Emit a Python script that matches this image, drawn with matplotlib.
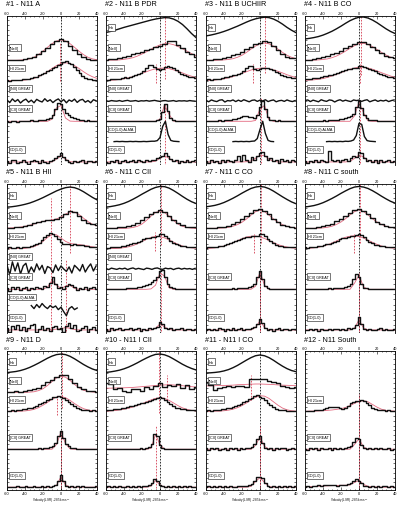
import matplotlib

matplotlib.use("Agg")
import matplotlib.pyplot as plt  # noqa: E402
import numpy as np  # noqa: E402
from matplotlib.ticker import MultipleLocator  # noqa: E402

plt.rcParams["font.family"] = ["Liberation Sans", "DejaVu Sans"]
plt.rcParams["axes.unicode_minus"] = False

BLACK = "#111111"
FIT = "#e46a80"
MARK = "#d43a50"

# channel grids (km/s): coarse for Halpha/[NeII] and all fits, finer for the rest
V5 = [-60, -55, -50, -45, -40, -35, -30, -25, -20, -15, -10, -5, 0, 5, 10, 15, 20, 25, 30, 35, 40]
V3 = [-60, -57, -54, -51, -48, -45, -42, -39, -36, -33, -30, -27, -24, -21, -18, -15, -12,
      -9, -6, -3, 0, 3, 6, 9, 12, 15, 18, 21, 24, 27, 30, 33, 36, 39]

TITLES = ["#1 - N11 A", "#2 - N11 B PDR", "#3 - N11 B UCHIIR", "#4 - N11 B CO",
          "#5 - N11 B HII", "#6 - N11 C CII", "#7 - N11 C CO", "#8 - N11 C south",
          "#9 - N11 D", "#10 - N11 I CII", "#11 - N11 I CO", "#12 - N11 South"]
LINE_NAMES = ["H\u03b1", "[NeII]", "HI 21cm", "[NII] GREAT", "[CII] GREAT", "CO(1-0) ALMA", "CO(1-0)"]

# ---- #1 N11 A
P1_NEII = [0.02, 0.0, 0.03, 0.02, 0.05, 0.1, 0.18, 0.3, 0.45, 0.62, 0.8, 0.95, 1.05, 0.93, 0.72, 0.5, 0.3, 0.15, 0.07, 0.03, 0.02]
P1_NEII_FIT = [0.0, 0.0, 0.0, 0.01, 0.03, 0.07, 0.15, 0.28, 0.45, 0.64, 0.82, 0.95, 1.0, 0.95, 0.82, 0.64, 0.45, 0.28, 0.15, 0.07, 0.03]
P1_HI = [0.02, 0.0, 0.03, 0.01, 0.04, 0.03, 0.06, 0.1, 0.08, 0.14, 0.2, 0.18, 0.27, 0.33, 0.36, 0.45, 0.52,
         0.6, 0.68, 0.75, 0.8, 0.92, 0.95, 0.88, 0.8, 0.65, 0.5, 0.38, 0.25, 0.15, 0.1, 0.06, 0.04, 0.05]
P1_HI_FIT = [0.0, 0.0, 0.0, 0.01, 0.03, 0.06, 0.11, 0.19, 0.3, 0.44, 0.6, 0.74, 0.84, 0.88, 0.84, 0.74, 0.6, 0.44, 0.3, 0.19, 0.11]
P1_NII = [0.05, -0.08, 0.1, -0.03, 0.07, -0.1, 0.02, 0.09, -0.06, 0.04, -0.09, 0.08, 0.0, -0.05, 0.11, -0.02, 0.06,
          -0.08, 0.03, 0.1, -0.04, 0.07, -0.09, 0.05, -0.02, 0.09, -0.07, 0.04, 0.08, -0.06, 0.02, -0.09, 0.06, 0.01]
P1_CII = [0.02, -0.03, 0.01, 0.03, -0.02, 0.0, 0.03, -0.01, 0.02, 0.04, 0.01, 0.03, 0.05, 0.04, 0.06, 0.1, 0.16,
          0.3, 0.62, 0.92, 0.85, 0.6, 0.42, 0.3, 0.2, 0.14, 0.1, 0.06, 0.05, 0.02, 0.04, 0.0, 0.02, -0.01]
P1_CII_FIT = [0.0, 0.0, 0.0, 0.0, 0.0, 0.0, 0.0, 0.0, 0.0, 0.0, 0.1, 0.66, 0.78, 0.16, 0.01, 0.0, 0.0, 0.0, 0.0, 0.0, 0.0]
P1_CO = [0.05, -0.06, 0.08, 0.1, -0.04, 0.02, 0.12, 0.0, -0.08, 0.06, 0.1, 0.03, -0.05, 0.08, 0.02, -0.03, 0.07,
         0.1, 0.2, 0.3, 0.45, 0.25, 0.1, 0.02, -0.04, 0.06, -0.02, 0.05, 0.09, -0.05, 0.03, 0.07, -0.02, 0.04]
P1_CO_FIT = [0.0, 0.0, 0.0, 0.0, 0.0, 0.0, 0.0, 0.0, 0.0, 0.0, 0.0, 0.14, 0.3, 0.14, 0.01, 0.0, 0.0, 0.0, 0.0, 0.0, 0.0]
P1_MARKS = [(-1, 4.0, 5.9)]

# ---- #2 N11 B PDR
P2_HA = [0.37, 0.42, 0.48, 0.55, 0.62, 0.68, 0.74, 0.8, 0.86, 0.92, 0.98, 1.03, 1.07, 1.1, 1.09, 1.03, 0.92, 0.76, 0.55, 0.32, 0.12]
P2_NEII = [0.02, 0.05, 0.08, 0.1, 0.16, 0.22, 0.3, 0.36, 0.42, 0.5, 0.58, 0.66, 0.72, 0.8, 0.95, 0.93, 0.76, 0.6, 0.42, 0.3, 0.18]
P2_NEII_FIT = [0.0, 0.01, 0.01, 0.02, 0.05, 0.08, 0.13, 0.21, 0.31, 0.42, 0.55, 0.66, 0.76, 0.81, 0.82, 0.77, 0.68, 0.57, 0.45, 0.33, 0.23]
P2_HI = [0.05, 0.03, 0.06, 0.08, 0.06, 0.1, 0.13, 0.16, 0.15, 0.2, 0.24, 0.28, 0.32, 0.38, 0.45, 0.62, 0.75,
         0.78, 0.65, 0.55, 0.5, 0.58, 0.68, 0.72, 0.66, 0.6, 0.5, 0.42, 0.35, 0.3, 0.25, 0.2, 0.16, 0.13]
P2_HI_FIT = [0.01, 0.02, 0.03, 0.06, 0.09, 0.14, 0.2, 0.28, 0.36, 0.44, 0.52, 0.58, 0.61, 0.62, 0.59, 0.53, 0.46, 0.38, 0.29, 0.22, 0.15]
P2_NII = [0.01, -0.02, 0.02, 0.0, -0.01, 0.02, -0.02, 0.01, 0.03, -0.01, 0.0, 0.02, -0.02, 0.01, 0.0, 0.02, -0.01,
          0.01, 0.03, 0.0, -0.02, 0.01, 0.02, -0.01, 0.0, 0.02, -0.02, 0.01, 0.0, 0.01, -0.01, 0.02, 0.0, -0.01]
P2_CII = [0.01, 0.0, 0.01, -0.01, 0.0, 0.01, 0.0, 0.02, 0.0, 0.01, -0.01, 0.01, 0.0, 0.02, 0.01, 0.0, 0.02,
          0.01, 0.03, 0.04, 0.1, 0.45, 0.85, 0.5, 0.15, 0.05, 0.02, 0.01, 0.0, 0.01, 0.0, 0.01, 0.0, 0.01]
P2_CII_FIT = [0.0, 0.0, 0.0, 0.0, 0.0, 0.0, 0.0, 0.0, 0.0, 0.0, 0.0, 0.0, 0.11, 0.8, 0.35, 0.01, 0.0, 0.0, 0.0, 0.0, 0.0]
P2_ALMA = [None, None, None, 0.0, 0.01, 0.0, 0.01, 0.0, 0.0, 0.01, 0.0, 0.01, 0.0, 0.0, 0.01, 0.0, 0.01,
           0.02, 0.02, 0.05, 0.2, 0.75, 1.0, 0.35, 0.06, 0.02, 0.01, 0.0, None, None, None, None, None, None]
P2_CO = [0.02, -0.05, 0.06, 0.0, 0.09, -0.03, 0.04, 0.1, -0.02, 0.05, 0.08, 0.02, 0.12, 0.06, 0.0, 0.1, 0.04,
         0.08, 0.12, 0.18, 0.22, 0.3, 0.42, 0.3, 0.15, 0.05, 0.1, -0.03, 0.06, 0.02, 0.1, 0.0, 0.05, 0.08]
P2_CO_FIT = [0.0, 0.0, 0.0, 0.0, 0.0, 0.0, 0.0, 0.0, 0.0, 0.0, 0.0, 0.04, 0.18, 0.3, 0.18, 0.04, 0.0, 0.0, 0.0, 0.0, 0.0]
P2_MARKS = [(6, 4.1, 7.2), (-5, 3.9, 4.8), (5, -0.2, 2.9)]

# ---- #3 N11 B UCHIIR
P3_HA = [0.2, 0.24, 0.29, 0.35, 0.42, 0.5, 0.59, 0.68, 0.78, 0.88, 0.97, 1.04, 1.09, 1.12, 1.1, 1.03, 0.92, 0.78, 0.62, 0.48, 0.36]
P3_NEII = [0.02, 0.03, 0.05, 0.08, 0.12, 0.18, 0.25, 0.32, 0.42, 0.55, 0.66, 0.78, 0.85, 0.95, 0.9, 0.72, 0.5, 0.3, 0.18, 0.12, 0.1]
P3_NEII_FIT = [0.0, 0.0, 0.0, 0.01, 0.02, 0.04, 0.08, 0.15, 0.25, 0.39, 0.55, 0.7, 0.81, 0.85, 0.81, 0.7, 0.55, 0.39, 0.25, 0.15, 0.08]
P3_HI = [0.04, 0.06, 0.03, 0.08, 0.1, 0.09, 0.14, 0.16, 0.2, 0.22, 0.26, 0.3, 0.35, 0.4, 0.48, 0.6, 0.74,
         0.7, 0.58, 0.52, 0.55, 0.6, 0.64, 0.62, 0.58, 0.5, 0.44, 0.36, 0.3, 0.24, 0.2, 0.16, 0.14, 0.12]
P3_HI_FIT = [0.01, 0.02, 0.03, 0.06, 0.09, 0.14, 0.2, 0.28, 0.36, 0.44, 0.52, 0.58, 0.61, 0.62, 0.59, 0.53, 0.46, 0.38, 0.29, 0.22, 0.15]
P3_NII = [0.03, -0.04, 0.05, 0.0, -0.03, 0.04, 0.06, -0.05, 0.02, 0.0, 0.05, -0.03, 0.04, -0.02, 0.06, 0.01, -0.04,
          0.03, 0.05, -0.02, 0.04, 0.0, 0.06, -0.03, 0.02, 0.05, -0.04, 0.01, 0.03, -0.02, 0.05, 0.0, -0.03, 0.02]
P3_CII = [0.02, 0.0, 0.03, 0.01, 0.02, 0.04, 0.03, 0.05, 0.06, 0.08, 0.1, 0.12, 0.16, 0.2, 0.24, 0.26, 0.22,
          0.2, 0.18, 0.3, 0.7, 0.98, 0.6, 0.2, 0.08, 0.05, 0.03, 0.04, 0.02, 0.03, 0.01, 0.02, 0.0, 0.01]
P3_CII_FIT = [0.0, 0.0, 0.0, 0.0, 0.0, 0.0, 0.0, 0.0, 0.0, 0.0, 0.0, 0.04, 0.61, 0.78, 0.08, 0.0, 0.0, 0.0, 0.0, 0.0, 0.0]
P3_ALMA = [None, None, None, None, None, None, None, None, None, None, 0.0, 0.01, 0.0, 0.01, 0.0, 0.01, 0.0,
           0.02, 0.03, 0.15, 0.6, 1.0, 0.4, 0.06, 0.01, 0.0, None, None, None, None, None, None, None, None]
P3_CO = [0.05, -0.04, 0.1, 0.02, 0.06, -0.05, 0.08, 0.0, 0.12, 0.05, -0.02, 0.1, 0.3, 0.05, 0.35, 0.1, 0.02,
         0.25, 0.12, 0.3, 0.45, 0.5, 0.3, 0.1, 0.2, 0.05, 0.12, -0.03, 0.15, 0.05, 0.08, 0.0, 0.1, 0.04]
P3_CO_FIT = [0.0, 0.0, 0.0, 0.0, 0.0, 0.0, 0.0, 0.0, 0.0, 0.01, 0.05, 0.18, 0.33, 0.31, 0.14, 0.03, 0.0, 0.0, 0.0, 0.0, 0.0]
P3_MARKS = [(5, 4.4, 7.2), (-8, 3.9, 4.8), (1.5, -0.2, 3.2)]

# ---- #4 N11 B CO
P4_HA = [0.05, 0.08, 0.12, 0.17, 0.24, 0.33, 0.43, 0.55, 0.68, 0.82, 0.95, 1.05, 1.12, 1.13, 1.08, 0.98, 0.85, 0.7, 0.55, 0.42, 0.32]
P4_NEII = [0.02, 0.04, 0.06, 0.1, 0.15, 0.22, 0.3, 0.38, 0.48, 0.6, 0.72, 0.82, 0.9, 0.88, 0.8, 0.65, 0.5, 0.35, 0.22, 0.14, 0.1]
P4_NEII_FIT = [0.0, 0.0, 0.01, 0.02, 0.04, 0.07, 0.13, 0.21, 0.32, 0.45, 0.59, 0.72, 0.82, 0.84, 0.78, 0.67, 0.53, 0.39, 0.26, 0.16, 0.09]
P4_HI = [0.08, 0.1, 0.07, 0.12, 0.15, 0.13, 0.18, 0.22, 0.25, 0.28, 0.3, 0.35, 0.38, 0.42, 0.46, 0.5, 0.55,
         0.58, 0.62, 0.64, 0.7, 0.72, 0.68, 0.62, 0.58, 0.52, 0.46, 0.4, 0.34, 0.28, 0.24, 0.2, 0.17, 0.15]
P4_HI_FIT = [0.01, 0.03, 0.04, 0.07, 0.1, 0.16, 0.23, 0.31, 0.39, 0.48, 0.56, 0.62, 0.66, 0.66, 0.62, 0.56, 0.48, 0.39, 0.31, 0.23, 0.16]
P4_NII = [0.02, 0.05, -0.03, 0.04, 0.0, -0.04, 0.06, 0.01, -0.02, 0.05, 0.03, -0.05, 0.02, 0.06, -0.01, 0.04, 0.0,
          -0.03, 0.05, 0.02, 0.04, -0.02, 0.03, 0.06, -0.04, 0.01, 0.05, -0.02, 0.03, 0.0, 0.04, -0.03, 0.02, 0.05]
P4_CII = [0.01, 0.02, 0.0, 0.02, 0.01, 0.03, 0.02, 0.04, 0.03, 0.05, 0.06, 0.05, 0.08, 0.1, 0.12, 0.15, 0.2,
          0.24, 0.35, 0.7, 1.0, 0.65, 0.3, 0.15, 0.08, 0.05, 0.04, 0.03, 0.02, 0.03, 0.01, 0.02, 0.01, 0.0]
P4_CII_FIT = [0.0, 0.0, 0.0, 0.0, 0.0, 0.0, 0.0, 0.0, 0.0, 0.0, 0.0, 0.27, 0.95, 0.42, 0.02, 0.0, 0.0, 0.0, 0.0, 0.0, 0.0]
P4_ALMA = [None, None, None, None, None, None, None, None, 0.0, 0.01, 0.0, 0.01, 0.0, 0.01, 0.0, 0.02, 0.01,
           0.03, 0.08, 0.3, 0.9, 0.85, 0.25, 0.05, 0.02, 0.01, 0.0, None, None, None, None, None, None, None]
P4_CO = [0.03, -0.05, 0.06, 0.02, 0.08, -0.02, 0.1, 0.05, 0.0, 0.55, 0.1, 0.04, 0.12, -0.02, 0.08, 0.15, 0.06,
         0.2, 0.3, 0.25, 0.5, 0.45, 0.2, 0.05, 0.12, 0.02, 0.08, -0.03, 0.1, 0.02, 0.06, 0.1, 0.0, 0.05]
P4_CO_FIT = [0.0, 0.0, 0.0, 0.0, 0.0, 0.0, 0.0, 0.0, 0.0, 0.0, 0.03, 0.17, 0.34, 0.25, 0.07, 0.01, 0.0, 0.0, 0.0, 0.0, 0.0]
P4_MARKS = [(2, 4.3, 7.2), (1, 3.9, 4.8), (0.7, -0.2, 3.0)]

# ---- #5 N11 B HII
P5_HA = [0.04, 0.06, 0.09, 0.13, 0.18, 0.24, 0.32, 0.41, 0.51, 0.62, 0.73, 0.84, 0.93, 1.0, 1.03, 1.0, 0.92, 0.8, 0.66, 0.52, 0.4]
P5_NEII = [0.03, 0.04, 0.06, 0.08, 0.12, 0.18, 0.25, 0.3, 0.36, 0.42, 0.4, 0.45, 0.55, 0.72, 0.85, 0.82, 0.62, 0.42, 0.28, 0.2, 0.15]
P5_NEII_FIT = [0.01, 0.02, 0.04, 0.06, 0.1, 0.15, 0.21, 0.28, 0.34, 0.38, 0.41, 0.46, 0.56, 0.7, 0.8, 0.8, 0.68, 0.5, 0.33, 0.2, 0.12]
P5_HI = [0.04, 0.06, 0.03, 0.05, 0.07, 0.05, 0.08, 0.1, 0.09, 0.13, 0.16, 0.22, 0.3, 0.42, 0.55, 0.68, 0.76,
         0.72, 0.6, 0.45, 0.32, 0.25, 0.22, 0.24, 0.2, 0.22, 0.18, 0.2, 0.16, 0.14, 0.12, 0.1, 0.08, 0.07]
P5_HI_FIT = [0.0, 0.0, 0.01, 0.01, 0.02, 0.05, 0.1, 0.2, 0.36, 0.55, 0.7, 0.68, 0.52, 0.36, 0.26, 0.22, 0.2, 0.17, 0.13, 0.09, 0.06]
P5_NII = [0.2, -0.3, 0.35, -0.1, 0.3, -0.25, 0.15, 0.28, -0.2, 0.1, -0.15, 0.25, -0.05, 0.18, -0.22, 0.12, 0.05,
          -0.18, 0.2, -0.08, 0.15, 0.0, -0.12, 0.1, -0.2, 0.18, 0.05, -0.1, 0.22, -0.15, 0.08, 0.25, -0.1, 0.15]
P5_CII = [0.05, -0.08, 0.1, 0.0, 0.12, -0.05, 0.06, 0.1, -0.04, 0.08, 0.02, 0.12, 0.05, 0.0, 0.15, 0.1, 0.3,
          0.6, 0.25, 0.05, 0.1, 0.0, 0.15, 0.28, 0.2, 0.1, -0.05, 0.08, 0.02, 0.12, -0.03, 0.07, 0.1, 0.0]
P5_CII_FIT = [0.0, 0.0, 0.0, 0.0, 0.0, 0.0, 0.0, 0.0, 0.01, 0.1, 0.45, 0.2, 0.05, 0.15, 0.2, 0.05, 0.0, 0.0, 0.0, 0.0, 0.0]
P5_ALMA = [None, None, None, None, None, None, None, None, None, 0.2, 0.05, 0.25, 0.1, 0.3, 0.15, 0.05, 0.2,
           0.1, 0.18, 0.0, 0.12, -0.1, -0.3, 0.05, 0.15, 0.0, 0.08, None, None, None, None, None, None, None]
P5_CO = [0.1, -0.1, 0.2, 0.05, 0.25, 0.0, 0.15, -0.05, 0.1, 0.22, 0.3, -0.1, 0.05, 0.2, 0.0, 0.1, -0.05,
         0.15, 0.2, 0.05, 0.1, -0.08, 0.2, 0.35, 0.1, 0.25, -0.05, 0.0, 0.1, 0.2, -0.1, 0.05, 0.15, 0.0]
P5_CO_FIT = [0.0, 0.0, 0.0, 0.0, 0.0, 0.0, 0.0, 0.0, 0.0, 0.0, 0.02, 0.04, 0.06, 0.12, 0.08, 0.02, 0.0, 0.0, 0.0, 0.0, 0.0]
P5_MARKS = [(-11, -0.2, 6.5), (10, 3.8, 7.2), (6, -0.2, 3.5)]

# ---- #6 N11 C CII
P6_HA = [0.04, 0.07, 0.11, 0.16, 0.23, 0.32, 0.43, 0.55, 0.68, 0.8, 0.92, 1.01, 1.06, 1.05, 0.98, 0.86, 0.72, 0.57, 0.43, 0.31, 0.22]
P6_NEII = [0.03, 0.04, 0.03, 0.05, 0.06, 0.1, 0.16, 0.28, 0.4, 0.55, 0.7, 0.8, 0.88, 0.78, 0.6, 0.4, 0.25, 0.15, 0.08, 0.06, 0.05]
P6_NEII_FIT = [0.0, 0.0, 0.0, 0.0, 0.0, 0.01, 0.04, 0.1, 0.21, 0.39, 0.6, 0.78, 0.85, 0.78, 0.6, 0.39, 0.21, 0.1, 0.04, 0.01, 0.0]
P6_HI = [0.05, 0.04, 0.07, 0.06, 0.08, 0.1, 0.12, 0.15, 0.18, 0.22, 0.26, 0.3, 0.34, 0.4, 0.45, 0.5, 0.52,
         0.55, 0.58, 0.62, 0.7, 0.72, 0.62, 0.5, 0.4, 0.3, 0.24, 0.18, 0.14, 0.12, 0.1, 0.09, 0.1, 0.08]
P6_HI_FIT = [0.0, 0.01, 0.01, 0.02, 0.05, 0.09, 0.15, 0.24, 0.35, 0.46, 0.55, 0.6, 0.59, 0.53, 0.43, 0.32, 0.21, 0.13, 0.07, 0.04, 0.02]
P6_NII = [0.02, -0.03, 0.04, 0.01, -0.02, 0.03, 0.0, 0.04, -0.03, 0.02, 0.05, -0.01, 0.03, 0.0, -0.03, 0.04, 0.02,
          -0.02, 0.03, 0.05, 0.0, -0.02, 0.04, 0.01, 0.03, -0.03, 0.02, 0.04, -0.01, 0.03, 0.0, 0.02, -0.02, 0.03]
P6_CII = [0.01, 0.0, 0.02, 0.01, 0.02, 0.03, 0.02, 0.03, 0.04, 0.05, 0.06, 0.08, 0.1, 0.12, 0.15, 0.2, 0.26,
          0.34, 0.45, 0.62, 0.88, 0.95, 0.6, 0.25, 0.1, 0.05, 0.03, 0.02, 0.02, 0.01, 0.02, 0.01, 0.0, 0.01]
P6_CII_FIT = [0.0, 0.0, 0.0, 0.0, 0.0, 0.0, 0.0, 0.0, 0.0, 0.0, 0.02, 0.2, 0.8, 0.65, 0.08, 0.0, 0.0, 0.0, 0.0, 0.0, 0.0]
P6_CO = [0.05, -0.03, 0.08, 0.0, 0.06, 0.1, -0.02, 0.07, 0.03, 0.09, 0.0, 0.05, 0.08, -0.03, 0.06, 0.02, 0.1,
         0.04, 0.08, 0.15, 0.4, 0.3, 0.12, 0.05, 0.1, -0.02, 0.06, 0.03, 0.09, 0.0, 0.05, 0.07, 0.02, 0.04]
P6_CO_FIT = [0.0, 0.0, 0.0, 0.0, 0.0, 0.0, 0.0, 0.0, 0.0, 0.0, 0.0, 0.08, 0.3, 0.15, 0.02, 0.0, 0.0, 0.0, 0.0, 0.0, 0.0]
P6_MARKS = [(1, 4.2, 7.2), (-6, 3.9, 4.8), (1.5, -0.2, 2.8)]

# ---- #7 N11 C CO
P7_HA = [0.06, 0.09, 0.13, 0.19, 0.27, 0.37, 0.48, 0.6, 0.73, 0.85, 0.96, 1.03, 1.06, 1.03, 0.95, 0.83, 0.69, 0.55, 0.42, 0.3, 0.21]
P7_NEII = [0.02, 0.03, 0.04, 0.05, 0.08, 0.12, 0.2, 0.32, 0.45, 0.6, 0.75, 0.88, 0.95, 0.85, 0.68, 0.48, 0.3, 0.18, 0.1, 0.06, 0.04]
P7_NEII_FIT = [0.0, 0.0, 0.0, 0.01, 0.02, 0.05, 0.1, 0.18, 0.3, 0.46, 0.65, 0.82, 0.9, 0.82, 0.65, 0.46, 0.3, 0.18, 0.1, 0.05, 0.02]
P7_HI = [0.05, 0.07, 0.06, 0.09, 0.1, 0.13, 0.15, 0.18, 0.22, 0.27, 0.32, 0.36, 0.42, 0.46, 0.5, 0.55, 0.58,
         0.6, 0.62, 0.64, 0.7, 0.72, 0.62, 0.48, 0.36, 0.26, 0.2, 0.15, 0.12, 0.1, 0.09, 0.08, 0.07, 0.08]
P7_HI_FIT = [0.01, 0.02, 0.04, 0.08, 0.13, 0.2, 0.29, 0.39, 0.49, 0.57, 0.61, 0.62, 0.58, 0.5, 0.4, 0.3, 0.2, 0.13, 0.08, 0.04, 0.02]
P7_CII = [0.01, 0.02, 0.0, 0.02, 0.01, 0.03, 0.02, 0.01, 0.03, 0.02, 0.04, 0.03, 0.05, 0.04, 0.06, 0.08, 0.1,
          0.15, 0.28, 0.6, 0.88, 0.5, 0.15, 0.05, 0.03, 0.02, 0.01, 0.03, 0.0, 0.02, 0.01, 0.0, 0.02, 0.01]
P7_CII_FIT = [0.0, 0.0, 0.0, 0.0, 0.0, 0.0, 0.0, 0.0, 0.0, 0.0, 0.0, 0.15, 0.85, 0.2, 0.0, 0.0, 0.0, 0.0, 0.0, 0.0, 0.0]
P7_CO = [0.02, 0.06, -0.02, 0.05, 0.0, 0.08, 0.03, -0.03, 0.06, 0.02, 0.1, 0.0, 0.05, 0.08, -0.02, 0.06, 0.04,
         0.1, 0.15, 0.3, 0.55, 0.35, 0.08, 0.02, 0.06, -0.03, 0.05, 0.08, 0.0, 0.04, 0.07, -0.02, 0.05, 0.03]
P7_CO_FIT = [0.0, 0.0, 0.0, 0.0, 0.0, 0.0, 0.0, 0.0, 0.0, 0.0, 0.0, 0.12, 0.45, 0.12, 0.0, 0.0, 0.0, 0.0, 0.0, 0.0, 0.0]
P7_MARKS = [(1, 4.3, 7.2), (-7, 3.8, 4.7), (0.5, -0.2, 2.8)]

# ---- #8 N11 C south
P8_HA = [0.05, 0.08, 0.12, 0.18, 0.26, 0.36, 0.47, 0.59, 0.72, 0.84, 0.95, 1.03, 1.06, 1.03, 0.96, 0.85, 0.72, 0.58, 0.45, 0.33, 0.24]
P8_NEII = [0.03, 0.02, 0.04, 0.06, 0.09, 0.14, 0.22, 0.34, 0.48, 0.62, 0.76, 0.88, 0.96, 0.86, 0.7, 0.5, 0.32, 0.2, 0.12, 0.07, 0.05]
P8_NEII_FIT = [0.0, 0.0, 0.0, 0.01, 0.02, 0.05, 0.1, 0.19, 0.31, 0.47, 0.66, 0.82, 0.91, 0.83, 0.66, 0.47, 0.31, 0.19, 0.1, 0.05, 0.02]
P8_HI = [0.06, 0.05, 0.08, 0.07, 0.1, 0.12, 0.14, 0.17, 0.21, 0.25, 0.3, 0.35, 0.4, 0.45, 0.5, 0.54, 0.58,
         0.6, 0.62, 0.68, 0.72, 0.66, 0.55, 0.44, 0.34, 0.26, 0.2, 0.16, 0.13, 0.11, 0.1, 0.09, 0.08, 0.07]
P8_HI_FIT = [0.01, 0.02, 0.04, 0.07, 0.12, 0.19, 0.28, 0.38, 0.48, 0.56, 0.61, 0.63, 0.6, 0.52, 0.42, 0.31, 0.21, 0.13, 0.08, 0.04, 0.02]
P8_CII = [0.02, 0.0, 0.01, 0.03, 0.01, 0.02, 0.0, 0.03, 0.02, 0.04, 0.03, 0.05, 0.04, 0.06, 0.07, 0.1, 0.14,
          0.25, 0.5, 0.75, 0.6, 0.25, 0.08, 0.04, 0.02, 0.03, 0.01, 0.02, 0.0, 0.02, 0.01, 0.03, 0.0, 0.01]
P8_CII_FIT = [0.0, 0.0, 0.0, 0.0, 0.0, 0.0, 0.0, 0.0, 0.0, 0.0, 0.0, 0.3, 0.7, 0.12, 0.0, 0.0, 0.0, 0.0, 0.0, 0.0, 0.0]
P8_CO = [0.02, -0.02, 0.04, 0.0, 0.03, -0.03, 0.05, 0.01, 0.0, 0.04, -0.02, 0.03, 0.06, 0.0, 0.05, 0.02, 0.08,
         0.05, 0.12, 0.25, 0.62, 0.3, 0.06, 0.0, 0.04, 0.02, -0.02, 0.05, 0.1, 0.0, 0.03, 0.02, -0.01, 0.03]
P8_CO_FIT = [0.0, 0.0, 0.0, 0.0, 0.0, 0.0, 0.0, 0.0, 0.0, 0.0, 0.0, 0.1, 0.5, 0.1, 0.0, 0.0, 0.0, 0.0, 0.0, 0.0, 0.0]
P8_MARKS = [(1, 4.3, 7.2), (-6, 3.8, 4.7), (0.5, -0.2, 2.8)]

# ---- #9 N11 D
P9_HA = [0.04, 0.07, 0.1, 0.15, 0.22, 0.31, 0.42, 0.54, 0.67, 0.8, 0.91, 0.99, 1.02, 0.99, 0.9, 0.77, 0.62, 0.47, 0.34, 0.23, 0.15]
P9_NEII = [0.04, 0.03, 0.05, 0.04, 0.06, 0.1, 0.15, 0.25, 0.38, 0.52, 0.66, 0.8, 0.9, 0.92, 0.72, 0.5, 0.3, 0.15, 0.08, 0.05, 0.04]
P9_NEII_FIT = [0.0, 0.0, 0.0, 0.0, 0.0, 0.01, 0.03, 0.09, 0.19, 0.36, 0.57, 0.76, 0.85, 0.8, 0.63, 0.42, 0.24, 0.11, 0.05, 0.02, 0.0]
P9_HI = [0.03, 0.04, 0.05, 0.04, 0.07, 0.08, 0.1, 0.12, 0.16, 0.2, 0.25, 0.3, 0.36, 0.43, 0.5, 0.58, 0.66,
         0.74, 0.78, 0.8, 0.76, 0.7, 0.6, 0.48, 0.36, 0.26, 0.18, 0.12, 0.08, 0.06, 0.05, 0.04, 0.05, 0.03]
P9_HI_FIT = [0.0, 0.0, 0.0, 0.01, 0.02, 0.05, 0.1, 0.19, 0.32, 0.47, 0.63, 0.75, 0.78, 0.72, 0.58, 0.41, 0.26, 0.14, 0.07, 0.03, 0.01]
P9_CII = [0.0, 0.02, 0.01, -0.01, 0.02, 0.0, 0.03, 0.01, 0.02, 0.0, 0.03, 0.02, 0.04, 0.03, 0.05, 0.06, 0.1,
          0.18, 0.35, 0.7, 0.95, 0.6, 0.3, 0.15, 0.08, 0.05, 0.03, 0.02, 0.03, 0.01, 0.02, 0.0, 0.01, 0.02]
P9_CII_FIT = [0.0, 0.0, 0.0, 0.0, 0.0, 0.0, 0.0, 0.0, 0.0, 0.0, 0.0, 0.25, 0.9, 0.3, 0.02, 0.0, 0.0, 0.0, 0.0, 0.0, 0.0]
P9_CO = [0.01, 0.03, -0.01, 0.02, 0.04, 0.0, 0.03, 0.05, 0.01, 0.02, 0.05, 0.0, 0.03, 0.06, 0.02, 0.04, 0.03,
         0.06, 0.1, 0.3, 0.65, 0.35, 0.08, 0.03, 0.05, 0.0, 0.04, 0.02, 0.05, 0.01, 0.03, 0.0, 0.02, 0.04]
P9_CO_FIT = [0.0, 0.0, 0.0, 0.0, 0.0, 0.0, 0.0, 0.0, 0.0, 0.0, 0.0, 0.1, 0.55, 0.12, 0.0, 0.0, 0.0, 0.0, 0.0, 0.0, 0.0]
P9_MARKS = [(1, 4.2, 7.2), (-4, 3.8, 4.8), (0.5, -0.2, 2.8)]

# ---- #10 N11 I CII
P10_HA = [0.05, 0.08, 0.12, 0.17, 0.24, 0.33, 0.44, 0.56, 0.69, 0.81, 0.92, 1.0, 1.02, 0.98, 0.89, 0.76, 0.62, 0.48, 0.36, 0.26, 0.18]
P10_NEII = [0.5, 0.45, 0.2, 0.25, 0.05, 0.0, 0.2, 0.15, 0.05, 0.3, 0.2, 0.35, 0.5, 0.3, 0.4, 0.35, 0.45, 0.25, 0.38, 0.2, 0.3]
P10_NEII_FIT = [0.22, 0.22, 0.23, 0.23, 0.24, 0.25, 0.26, 0.28, 0.3, 0.32, 0.34, 0.36, 0.38, 0.39, 0.4, 0.39, 0.37, 0.35, 0.32, 0.3, 0.28]
P10_HI = [0.06, 0.08, 0.07, 0.1, 0.12, 0.14, 0.16, 0.19, 0.22, 0.26, 0.3, 0.33, 0.37, 0.42, 0.46, 0.5, 0.55,
          0.6, 0.65, 0.7, 0.74, 0.72, 0.62, 0.5, 0.38, 0.28, 0.2, 0.15, 0.12, 0.1, 0.09, 0.08, 0.08, 0.07]
P10_HI_FIT = [0.01, 0.02, 0.04, 0.07, 0.11, 0.16, 0.23, 0.31, 0.4, 0.5, 0.6, 0.68, 0.72, 0.68, 0.58, 0.44, 0.3, 0.18, 0.1, 0.05, 0.02]
P10_CII = [0.01, 0.0, 0.02, 0.01, 0.0, 0.02, 0.01, 0.03, 0.0, 0.02, 0.01, 0.03, 0.02, 0.04, 0.03, 0.06, 0.12,
           0.3, 0.78, 0.68, 0.2, 0.06, 0.03, 0.02, 0.03, 0.01, 0.02, 0.0, 0.02, 0.01, 0.0, 0.02, 0.01, 0.0]
P10_CII_FIT = [0.0, 0.0, 0.0, 0.0, 0.0, 0.0, 0.0, 0.0, 0.0, 0.0, 0.05, 0.78, 0.25, 0.0, 0.0, 0.0, 0.0, 0.0, 0.0, 0.0, 0.0]
P10_CO = [0.02, 0.05, 0.0, 0.04, 0.02, 0.06, -0.01, 0.03, 0.05, 0.02, 0.04, 0.0, 0.06, 0.03, 0.05, 0.08, 0.1,
          0.22, 0.45, 0.3, 0.1, 0.05, 0.02, 0.06, 0.0, 0.04, 0.03, 0.05, 0.02, 0.06, 0.01, 0.04, 0.03, 0.02]
P10_CO_FIT = [0.0, 0.0, 0.0, 0.0, 0.0, 0.0, 0.0, 0.0, 0.0, 0.0, 0.05, 0.35, 0.12, 0.0, 0.0, 0.0, 0.0, 0.0, 0.0, 0.0, 0.0]
P10_MARKS = [(-1, 3.9, 7.2), (8, 4.6, 5.9), (-4, -0.2, 3.2)]

# ---- #11 N11 I CO
P11_HA = [0.02, 0.03, 0.05, 0.08, 0.13, 0.2, 0.3, 0.42, 0.56, 0.7, 0.83, 0.93, 0.97, 0.93, 0.83, 0.69, 0.53, 0.38, 0.25, 0.15, 0.09]
P11_NEII = [0.55, 0.4, 0.1, 0.25, 0.3, 0.35, 0.3, 0.32, 0.35, 0.3, 0.72, 0.7, 0.68, 0.72, 0.6, 0.55, 0.5, 0.35, 0.3, 0.25, 0.28]
P11_NEII_FIT = [0.34, 0.34, 0.35, 0.36, 0.36, 0.37, 0.38, 0.4, 0.41, 0.42, 0.43, 0.44, 0.44, 0.43, 0.42, 0.41, 0.39, 0.38, 0.37, 0.36, 0.35]
P11_HI = [0.03, 0.05, 0.04, 0.06, 0.05, 0.08, 0.1, 0.12, 0.15, 0.18, 0.22, 0.28, 0.34, 0.4, 0.48, 0.56, 0.64,
          0.72, 0.8, 0.85, 0.78, 0.7, 0.58, 0.45, 0.33, 0.22, 0.14, 0.09, 0.06, 0.05, 0.04, 0.03, 0.04, 0.03]
P11_HI_FIT = [0.0, 0.0, 0.01, 0.01, 0.03, 0.06, 0.11, 0.19, 0.3, 0.44, 0.6, 0.74, 0.82, 0.8, 0.68, 0.5, 0.32, 0.17, 0.08, 0.03, 0.01]
P11_CII = [0.04, -0.03, 0.06, 0.0, 0.05, -0.04, 0.03, 0.07, -0.02, 0.04, 0.0, 0.06, -0.03, 0.05, 0.02, 0.07, 0.04,
           0.12, 0.3, 0.55, 0.72, 0.35, 0.08, 0.02, 0.06, -0.02, 0.05, 0.0, 0.04, 0.06, -0.03, 0.03, 0.05, 0.0]
P11_CII_FIT = [0.0, 0.0, 0.0, 0.0, 0.0, 0.0, 0.0, 0.0, 0.0, 0.0, 0.0, 0.2, 0.65, 0.15, 0.0, 0.0, 0.0, 0.0, 0.0, 0.0, 0.0]
P11_CO = [0.02, 0.04, 0.0, 0.05, 0.03, 0.06, 0.01, 0.04, 0.02, 0.05, 0.03, 0.0, 0.06, 0.04, 0.08, 0.05, 0.1,
          0.15, 0.35, 0.55, 0.55, 0.5, 0.2, 0.06, 0.03, 0.05, 0.02, 0.04, 0.0, 0.05, 0.03, 0.06, 0.02, 0.04]
P11_CO_FIT = [0.0, 0.0, 0.0, 0.0, 0.0, 0.0, 0.0, 0.0, 0.0, 0.0, 0.04, 0.3, 0.5, 0.25, 0.03, 0.0, 0.0, 0.0, 0.0, 0.0, 0.0]
P11_MARKS = [(-10, 4.6, 5.9), (0.5, -0.2, 3.2)]

# ---- #12 N11 South
P12_HI = [0.02, 0.03, 0.02, 0.04, 0.05, 0.06, 0.08, 0.1, 0.16, 0.22, 0.25, 0.22, 0.24, 0.18, 0.14, 0.2, 0.3,
          0.42, 0.48, 0.52, 0.55, 0.58, 0.54, 0.46, 0.32, 0.2, 0.12, 0.08, 0.06, 0.05, 0.04, 0.05, 0.03, 0.04]
P12_HI_FIT = [0.0, 0.01, 0.01, 0.02, 0.03, 0.05, 0.07, 0.1, 0.14, 0.2, 0.3, 0.42, 0.52, 0.56, 0.5, 0.36, 0.22, 0.11, 0.05, 0.02, 0.01]
P12_CII = [0.03, -0.02, 0.05, 0.01, 0.04, -0.03, 0.06, 0.02, 0.0, 0.05, -0.02, 0.04, 0.03, 0.06, 0.02, 0.08, 0.1,
           0.18, 0.4, 0.6, 0.55, 0.2, 0.06, 0.03, 0.05, -0.01, 0.04, 0.02, 0.06, 0.0, 0.03, 0.05, -0.02, 0.03]
P12_CII_FIT = [0.0, 0.0, 0.0, 0.0, 0.0, 0.0, 0.0, 0.0, 0.0, 0.0, 0.0, 0.25, 0.55, 0.12, 0.0, 0.0, 0.0, 0.0, 0.0, 0.0, 0.0]
P12_CO = [0.02, 0.05, 0.03, 0.08, 0.06, 0.1, 0.08, 0.12, 0.1, 0.14, 0.1, 0.12, 0.08, 0.1, 0.12, 0.1, 0.15,
          0.2, 0.3, 0.42, 0.35, 0.2, 0.08, 0.05, 0.02, 0.06, 0.03, 0.05, 0.02, 0.04, 0.06, 0.03, 0.05, 0.02]
P12_CO_FIT = [0.02, 0.03, 0.04, 0.05, 0.06, 0.07, 0.08, 0.09, 0.1, 0.1, 0.12, 0.25, 0.35, 0.15, 0.04, 0.02, 0.01, 0.0, 0.0, 0.0, 0.0]
P12_MARKS = [(0.5, -0.2, 4.9)]

# slot index -> (spectrum, fit); slot 0 is Halpha at the top, slot 6 CO(1-0) at the bottom
PANELS = [
    ({1: (P1_NEII, P1_NEII_FIT), 2: (P1_HI, P1_HI_FIT), 3: (P1_NII, None), 4: (P1_CII, P1_CII_FIT), 6: (P1_CO, P1_CO_FIT)}, P1_MARKS),
    ({0: (P2_HA, None), 1: (P2_NEII, P2_NEII_FIT), 2: (P2_HI, P2_HI_FIT), 3: (P2_NII, None), 4: (P2_CII, P2_CII_FIT),
      5: (P2_ALMA, None), 6: (P2_CO, P2_CO_FIT)}, P2_MARKS),
    ({0: (P3_HA, None), 1: (P3_NEII, P3_NEII_FIT), 2: (P3_HI, P3_HI_FIT), 3: (P3_NII, None), 4: (P3_CII, P3_CII_FIT),
      5: (P3_ALMA, None), 6: (P3_CO, P3_CO_FIT)}, P3_MARKS),
    ({0: (P4_HA, None), 1: (P4_NEII, P4_NEII_FIT), 2: (P4_HI, P4_HI_FIT), 3: (P4_NII, None), 4: (P4_CII, P4_CII_FIT),
      5: (P4_ALMA, None), 6: (P4_CO, P4_CO_FIT)}, P4_MARKS),
    ({0: (P5_HA, None), 1: (P5_NEII, P5_NEII_FIT), 2: (P5_HI, P5_HI_FIT), 3: (P5_NII, None), 4: (P5_CII, P5_CII_FIT),
      5: (P5_ALMA, None), 6: (P5_CO, P5_CO_FIT)}, P5_MARKS),
    ({0: (P6_HA, None), 1: (P6_NEII, P6_NEII_FIT), 2: (P6_HI, P6_HI_FIT), 3: (P6_NII, None), 4: (P6_CII, P6_CII_FIT),
      6: (P6_CO, P6_CO_FIT)}, P6_MARKS),
    ({0: (P7_HA, None), 1: (P7_NEII, P7_NEII_FIT), 2: (P7_HI, P7_HI_FIT), 4: (P7_CII, P7_CII_FIT), 6: (P7_CO, P7_CO_FIT)}, P7_MARKS),
    ({0: (P8_HA, None), 1: (P8_NEII, P8_NEII_FIT), 2: (P8_HI, P8_HI_FIT), 4: (P8_CII, P8_CII_FIT), 6: (P8_CO, P8_CO_FIT)}, P8_MARKS),
    ({0: (P9_HA, None), 1: (P9_NEII, P9_NEII_FIT), 2: (P9_HI, P9_HI_FIT), 4: (P9_CII, P9_CII_FIT), 6: (P9_CO, P9_CO_FIT)}, P9_MARKS),
    ({0: (P10_HA, None), 1: (P10_NEII, P10_NEII_FIT), 2: (P10_HI, P10_HI_FIT), 4: (P10_CII, P10_CII_FIT), 6: (P10_CO, P10_CO_FIT)}, P10_MARKS),
    ({0: (P11_HA, None), 1: (P11_NEII, P11_NEII_FIT), 2: (P11_HI, P11_HI_FIT), 4: (P11_CII, P11_CII_FIT), 6: (P11_CO, P11_CO_FIT)}, P11_MARKS),
    ({2: (P12_HI, P12_HI_FIT), 4: (P12_CII, P12_CII_FIT), 6: (P12_CO, P12_CO_FIT)}, P12_MARKS),
]

FIG_W, FIG_H = 397, 506
COL_LEFT = [7, 106, 206, 305]
ROW_TOP = [17, 185, 352]
ROW_H = [149, 149, 139]
AX_W = 90
YLIM = (-0.15, 7.18)
NOISY_SLOTS = (3, 5)  # [NII] and ALMA drawn as plain traces


def draw_panel(ax, lines, marks, bottom_row):
    ax.set_xlim(-60, 40)
    ax.set_ylim(*YLIM)
    ax.axvline(0, color=BLACK, lw=0.6, ls=(0, (2.0, 1.6)), zorder=1)
    for v, y0, y1 in marks:
        ax.plot([v, v], [y0, y1], color=MARK, lw=0.6, ls=(0, (2.0, 1.6)), zorder=1)
    for slot, (spec, fit) in lines.items():
        base = 6 - slot
        vals = np.array(spec, dtype=float) + base
        if fit is not None:
            ax.plot(V5, np.array(fit) + base, color=FIT, lw=0.6, zorder=2)
        if slot == 0:
            ax.plot(V5, vals, color=BLACK, lw=1.0, zorder=3)
        elif slot in NOISY_SLOTS:
            ax.plot(V3, vals, color=BLACK, lw=1.0, zorder=3)
        else:
            grid = V5 if slot == 1 else V3
            ax.plot(grid, vals, color=BLACK, lw=1.0, drawstyle="steps-mid", zorder=3)
        ax.text(-56.5, base + 0.62, LINE_NAMES[slot], fontsize=2.7, va="center", ha="left", zorder=4,
                bbox=dict(boxstyle="square,pad=0.35", fc="white", ec=BLACK, lw=0.4))

    ax.xaxis.set_major_locator(MultipleLocator(20))
    ax.xaxis.set_minor_locator(MultipleLocator(5))
    ax.yaxis.set_major_locator(MultipleLocator(0.25))
    ax.tick_params(axis="x", which="both", direction="in", top=True, bottom=bottom_row,
                   labeltop=True, labelbottom=bottom_row, labelsize=2.8, pad=0.6, width=0.4)
    ax.tick_params(axis="x", which="major", length=2.0)
    ax.tick_params(axis="x", which="minor", length=1.0)
    ax.tick_params(axis="y", which="both", direction="in", left=True, right=True, labelleft=False,
                   length=1.2, width=0.4)
    for side in ("left", "right", "top", "bottom"):
        ax.spines[side].set_linewidth(0.6)
    if not bottom_row:
        ax.spines["bottom"].set_visible(False)
    else:
        ax.set_xlabel("Velocity (LSR) - 285 km s$^{-1}$", fontsize=2.2, labelpad=0.2)


fig = plt.figure(figsize=(FIG_W / 100, FIG_H / 100), dpi=100)
for i, (lines, marks) in enumerate(PANELS):
    row, col = divmod(i, 4)
    left, top, h = COL_LEFT[col], ROW_TOP[row], ROW_H[row]
    ax = fig.add_axes([left / FIG_W, 1 - (top + h) / FIG_H, AX_W / FIG_W, h / FIG_H])
    draw_panel(ax, lines, marks, row == 2)
    fig.text((left - 1) / FIG_W, 1 - (top - 12) / FIG_H, TITLES[i], fontsize=5.2, ha="left", va="center")

fig.savefig("out.png", dpi=100)
